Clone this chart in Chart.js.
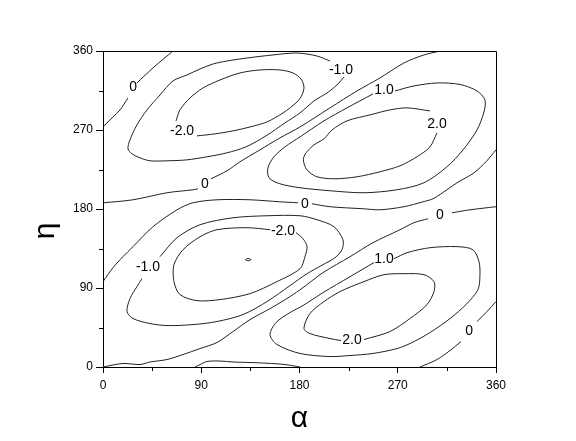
<!DOCTYPE html>
<html>
<head>
<meta charset="utf-8">
<script src="https://cdn.jsdelivr.net/npm/chart.js@4.4.1/dist/chart.umd.min.js"></script>
<style>
  html, body { margin: 0; padding: 0; background: #fff; }
  #wrap { width: 576px; height: 441px; }
</style>
</head>
<body>
<div id="wrap"><canvas id="c"></canvas></div>
<script>
// tick values
var alphaTicks = [0, 90, 180, 270, 360];
var etaTicks = [0, 90, 180, 270, 360];
var minorTicks = [45, 135, 225, 315];

// contour lines as [alpha, eta] pairs
// level 0
var zeroA = [[0,273.5],[9.2,284.9],[15.6,292.9],[22.9,306.5]];
var zeroB = [[31.1,323.6],[45.8,340.7],[64.1,360]];
var zeroC = [[0,187],[27.5,190.5],[58.6,198.5],[82.4,201.9],[87,203]];
var zeroD = [[98.9,214.4],[113.6,223.5],[125.5,233.8],[143.8,247.4],[162.1,261],[180.5,273.5],[207.9,295.2],[232.7,314.5],[253.7,329.3],[275.7,346.4],[294,355.5],[308.7,360]];
var zeroE = [[0,97.3],[9.2,113.2],[18.3,125.7],[27.5,137.1],[45.8,159.8],[67.8,179.1],[82.4,187.1],[104.4,190.5],[134.7,190.5],[162.1,188.2],[178.6,187.1]];
var zeroF = [[191.4,186],[207.9,182.6],[238.2,180.3],[253.7,179.1],[275.7,182.6],[293.1,188.2],[302.3,191.7],[315.1,201.9],[324.3,209.9],[339.8,221.2],[350.8,233.8],[360,247.4]];
var zeroG = [[360,182.6],[336.2,179.1],[319.7,175.7]];
var zeroH = [[297.7,168.9],[284.9,164.4],[272.1,156.4],[247.3,141.6],[226.3,125.7],[201.5,107.5],[183.2,90.4],[171.3,80.2],[153,66.5],[134.7,54],[119.1,40.4],[104.4,27.9],[88.9,21],[73.3,14.2],[58.6,8.5],[43.1,5.7],[33.9,2.8],[18.3,4],[0,0]];
var zeroI = [[290.4,0],[306,8.5],[317.9,18.8],[328,29]];
var zeroJ = [[342.6,51.8],[351.7,63.1],[360,74.5]];
var zeroK = [[84.3,0],[88.9,2.8],[95.3,6.3],[107.2,6.8],[119.1,5.7],[134.7,5.1],[150.2,4.3],[166.7,2.8],[180.5,0]];

// level -1
var minusOneTop = [[220.8,330.4],[214.3,321.3],[205.2,312.2],[193.3,303.1],[180.5,289.5],[166.7,278.1],[149.3,263.3],[131,250.8],[113.6,244],[95.3,239.5],[76.9,236],[58.6,234.9],[43.1,234.9],[33.9,238.3],[26.6,242.9],[22.9,248.6],[24.7,258.8],[31.1,275.8],[40.3,292.9],[52.2,309.9],[64.1,325.9],[76.9,332.7],[88.9,339.5],[100.8,345.2],[113.6,348.6],[131.9,352],[155.7,355.5],[177.7,357.7],[196,354.3],[207.9,348.6]];
var minusOneMid = [[52.2,125.7],[67.8,147.3],[88.9,162.1],[119.1,170],[150.2,172.3],[180.5,172.3],[196,167.8],[211.6,159.8],[219.8,145],[218.9,133.6],[212.5,124.5],[201.5,116.6],[186.9,106.3],[171.3,92.7],[150.2,74.5],[128.2,59.7],[104.4,51.8],[82.4,48.3],[58.6,47.2],[43.1,49.5],[27.5,55.2],[22,63.1],[24.7,77.9],[31.1,91.6],[35.7,100.7]];

// level -2
var minusTwoTop = [[66.9,280.4],[70.5,292.9],[79.7,306.5],[91.6,317.9],[107.2,327],[125.5,335],[143.8,338.4],[162.1,338.4],[174,335],[181.4,328.1],[184.1,319],[182.3,309.9],[177.7,301.9],[164.9,289.5],[150.2,279.2],[134.7,273.5],[119.1,269],[102.6,265.6],[86.1,263.3]];
var minusTwoMid = [[153,156.4],[131.9,158.7],[104.4,156.4],[88.9,148.4],[73.3,133.6],[65,116.6],[65,97.3],[70.5,82.5],[86.1,75.6],[107.2,76.8],[134.7,83.6],[159.4,97.3],[180.5,112],[185,125.7],[186.9,137.1],[183.2,146.2],[176.8,153]];
var minusTwoIsland = [[130.5,122.3],[132.8,123.7],[135.6,122.3],[132.8,120.9],[130.5,122.3]];

// level 1
var plusOneTop = [[247.3,311.1],[223.5,295.2],[202.4,280.4],[180.5,262.2],[166.7,250.8],[156.6,239.5],[151.1,226.9],[152.1,215.5],[162.1,208.7],[180.5,204.2],[207.9,200.8],[239.1,198.5],[269.3,201.9],[294,209.9],[315.1,228.1],[329.8,247.4],[342.6,270.1],[349,290.6],[349.9,304.2],[342.6,314.5],[327,321.9],[306,323.6],[284.9,320.2],[267.5,314.5]];
var plusOneBottom = [[248.2,118.9],[226.3,102.9],[201.5,84.7],[183.2,70],[171.3,62],[158.5,50.6],[153,36.9],[159.4,25.6],[180.5,15.4],[207.9,11.9],[226.3,13.1],[247.3,15.4],[269.3,21],[281.2,26.7],[299.5,39.2],[317.9,55.2],[332.5,71.1],[343.5,88.2],[345.3,105.2],[344.4,120],[338.9,133.6],[324.3,137.1],[299.5,135.9],[278.5,130.2],[266.6,123.4]];

// level 2
var plusTwoTop = [[306,266.7],[299.5,250.8],[287.6,239.5],[272.1,229.2],[253.7,222.4],[232.7,216.7],[212.5,214.4],[196,216.7],[186.9,224.6],[183.5,236],[186,244],[193.3,253.1],[202.4,259.9],[209.8,270.1],[223.5,280.4],[244.6,287.2],[262.9,292.9],[278.5,295.2],[299.5,291.7]];
var plusTwoBottom = [[239.1,31.3],[262.9,40.4],[281.2,55.2],[296.8,71.1],[303.2,85.9],[303.2,97.3],[294,105.2],[275.7,106.3],[257.4,105.2],[239.1,97.3],[217.1,85.9],[202.4,74.5],[189.6,60.9],[184.1,43.8],[189.6,38.1],[207.9,32.4],[218,30.1]];

// contour labels: text, alpha, eta
var contourLabels = [
  ['0', 27.5, 319], ['0', 93.4, 208.7], ['0', 185, 186], ['0', 308.7, 173.5], ['0', 335.3, 40.4],
  ['-1.0', 218, 338.4], ['-1.0', 41.2, 114.3],
  ['-2.0', 72.4, 268.9], ['-2.0', 164.9, 155.3],
  ['1.0', 257.4, 315.6], ['1.0', 257.4, 123.4],
  ['2.0', 306, 276.8], ['2.0', 228.1, 30.1]
];

var allLines = [zeroA, zeroB, zeroC, zeroD, zeroE, zeroF, zeroG, zeroH, zeroI, zeroJ, zeroK,
  minusOneTop, minusOneMid, minusTwoTop, minusTwoMid, minusTwoIsland,
  plusOneTop, plusOneBottom, plusTwoTop, plusTwoBottom];

var FONT = "'Liberation Sans', Arial, Helvetica, sans-serif";
Chart.defaults.font.family = FONT;
Chart.defaults.color = '#000';

var datasets = allLines.map(function (line) {
  return {
    data: line.map(function (p) { return { x: p[0], y: p[1] }; }),
    showLine: true,
    borderColor: '#222',
    borderWidth: 1,
    pointRadius: 0,
    tension: 0.3,
    fill: false
  };
});

// frame, minor ticks, contour labels and the eta title
var extras = {
  id: 'extras',
  afterDatasetsDraw: function (chart) {
    var ctx = chart.ctx, a = chart.chartArea;
    var xs = chart.scales.x, ys = chart.scales.y;
    ctx.save();
    ctx.strokeStyle = '#000';
    ctx.lineWidth = 1;
    ctx.beginPath();
    ctx.moveTo(a.left, a.top + 0.5);
    ctx.lineTo(a.right + 0.5, a.top + 0.5);
    ctx.lineTo(a.right + 0.5, a.bottom);
    ctx.stroke();

    ctx.beginPath();
    minorTicks.forEach(function (v) {
      var px = Math.round(xs.getPixelForValue(v)) + 0.5;
      ctx.moveTo(px, a.bottom);
      ctx.lineTo(px, a.bottom + 4);
      var py = Math.round(ys.getPixelForValue(v)) + 0.5;
      ctx.moveTo(a.left, py);
      ctx.lineTo(a.left - 4, py);
    });
    ctx.stroke();

    ctx.fillStyle = '#000';
    ctx.font = '14px ' + FONT;
    ctx.textAlign = 'center';
    ctx.textBaseline = 'middle';
    contourLabels.forEach(function (l) {
      ctx.fillText(l[0], xs.getPixelForValue(l[1]), ys.getPixelForValue(l[2]));
    });

    ctx.font = '30px ' + FONT;
    ctx.textBaseline = 'alphabetic';
    ctx.translate(a.left - 49, a.top + 180);
    ctx.rotate(-Math.PI / 2);
    ctx.fillText('η', 0, 0);
    ctx.restore();
  }
};

new Chart(document.getElementById('c'), {
  type: 'scatter',
  data: { datasets: datasets },
  options: {
    responsive: true,
    maintainAspectRatio: false,
    animation: false,
    layout: { padding: { top: 51, right: 80, left: 0, bottom: 0 } },
    plugins: { legend: { display: false }, tooltip: { enabled: false } },
    scales: {
      x: {
        type: 'linear', min: 0, max: 360,
        afterBuildTicks: function (s) { s.ticks = alphaTicks.map(function (v) { return { value: v }; }); },
        afterFit: function (s) { s.height = 74; },
        ticks: { font: { size: 12 }, color: '#000', padding: 5, maxRotation: 0 },
        grid: { drawOnChartArea: false, tickLength: 6, color: '#000' },
        border: { color: '#000', width: 1 },
        title: { display: true, text: 'α', font: { size: 30 }, color: '#000', padding: { top: 0, bottom: 4 } }
      },
      y: {
        type: 'linear', min: 0, max: 360,
        afterBuildTicks: function (s) { s.ticks = etaTicks.map(function (v) { return { value: v }; }); },
        afterFit: function (s) { s.width = 103; },
        ticks: { font: { size: 12 }, color: '#000', padding: 3 },
        grid: { drawOnChartArea: false, tickLength: 7, color: '#000' },
        border: { color: '#000', width: 1 }
      }
    }
  },
  plugins: [extras]
});
</script>
</body>
</html>
